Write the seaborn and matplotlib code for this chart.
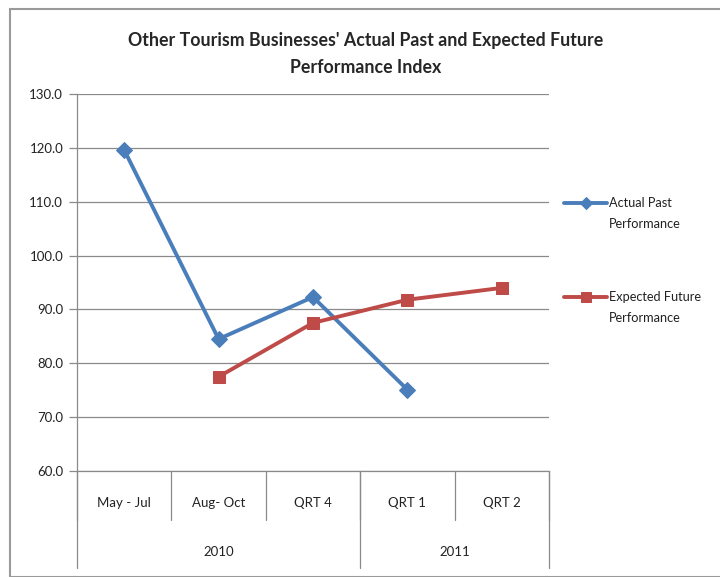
import matplotlib
matplotlib.use('Agg')
import matplotlib.pyplot as plt
import matplotlib.transforms as mtransforms
import matplotlib.patches as mpatches
import numpy as np
import pandas as pd
import seaborn as sns

sns.set_style('white')
plt.rcParams['font.family'] = ['Lato', 'DejaVu Sans']

# Datos
categories = ['May - Jul', 'Aug- Oct', 'QRT 4', 'QRT 1', 'QRT 2']
years = ['2010', '2011']
year_spans = [3, 2]
actual = [119.6, 84.5, 92.3, 75.1, np.nan]
expected = [np.nan, 77.5, 87.5, 91.8, 94.0]
legend_first = ['Actual Past', 'Expected Future']
legend_second = ['Performance', 'Performance']

pos = np.arange(len(categories))
df = pd.DataFrame({'pos': pos, 'actual': actual, 'expected': expected})

blue = '#4a7ebb'
red = '#be4b48'
grid_col = '#8a8a8a'
txt_col = '#222222'

fig = plt.figure(figsize=(7.2, 5.77), dpi=100)
ax = fig.add_axes([77 / 720, 1 - 471 / 577, (549 - 77) / 720, (471 - 94) / 577])

sns.lineplot(data=df, x='pos', y='actual', ax=ax, color=blue, lw=2.8,
             marker='D', markersize=8, markeredgecolor=blue,
             label=legend_first[0])
sns.lineplot(data=df, x='pos', y='expected', ax=ax, color=red, lw=2.8,
             marker='s', markersize=8.5, markeredgecolor=red,
             label=legend_first[1])

ax.set_xlim(-0.5, len(categories) - 0.5)
ax.set_ylim(60, 130)
ax.set_yticks(np.arange(60, 131, 10))
ax.set_yticklabels(['%.1f' % v for v in np.arange(60, 131, 10)], fontsize=9.5, color=txt_col)
ax.yaxis.grid(True, color=grid_col, lw=0.9)
ax.set_axisbelow(True)
ax.tick_params(axis='y', direction='out', length=6, width=0.9, color=grid_col, pad=4, left=True)
ax.set_xticks([])
ax.set_xlabel('')
ax.set_ylabel('')
for s in ['top', 'right']:
    ax.spines[s].set_visible(False)
ax.spines['left'].set_color(grid_col)
ax.spines['bottom'].set_color(grid_col)
ax.spines['left'].set_linewidth(0.9)
ax.spines['bottom'].set_linewidth(0.9)

# Eje de categorias en dos niveles
trans = mtransforms.blended_transform_factory(ax.transData, ax.transAxes)
h_cat = 49 / 377
h_year = 97 / 377
for b in np.arange(-0.5, len(categories), 1.0):
    ax.plot([b, b], [0, -h_cat], transform=trans, color=grid_col, lw=0.9, clip_on=False)
for i, c in enumerate(categories):
    ax.text(i, -32 / 377, c, transform=trans, ha='center', va='center',
            fontsize=9.5, color=txt_col)
start = -0.5
ax.plot([start, start], [0, -h_year], transform=trans, color=grid_col, lw=0.9, clip_on=False)
for y, span in zip(years, year_spans):
    end = start + span
    ax.plot([end, end], [0, -h_year], transform=trans, color=grid_col, lw=0.9, clip_on=False)
    ax.text((start + end) / 2, -81 / 377, y, transform=trans, ha='center', va='center',
            fontsize=9.5, color=txt_col)
    start = end

# Titulo
fig.text(366 / 720, 1 - 54 / 577,
         "Other Tourism Businesses' Actual Past and Expected Future\nPerformance Index",
         ha='center', va='center', fontsize=12.8, fontweight='bold', linespacing=1.75)

# Leyenda (primera linea en la leyenda, segunda linea debajo)
ax.get_legend().remove()
h, l = ax.get_legend_handles_labels()
leg = fig.legend(h, l, loc='upper left', bbox_to_anchor=(564 / 720, 1 - 197 / 577),
                 frameon=False, fontsize=9.2, handlelength=3.4, handletextpad=0.15,
                 labelspacing=6.45, labelcolor=txt_col, borderaxespad=0, borderpad=0,
                 markerscale=0.8)
fig.canvas.draw()
inv = fig.transFigure.inverted()
for t, second in zip(leg.get_texts(), legend_second):
    bb = t.get_window_extent()
    x0, y0 = inv.transform((bb.x0, bb.y0))
    fig.text(x0, y0 - 9 / 577, second, ha='left', va='top', fontsize=9.2, color=txt_col)

# Marco exterior
fig.patches.append(mpatches.Rectangle((10 / 720, 0), 1, 1 - 9 / 577,
                                      transform=fig.transFigure, fill=False,
                                      edgecolor='#9a9a9a', lw=1.5))

fig.savefig('out.png', dpi=100)
